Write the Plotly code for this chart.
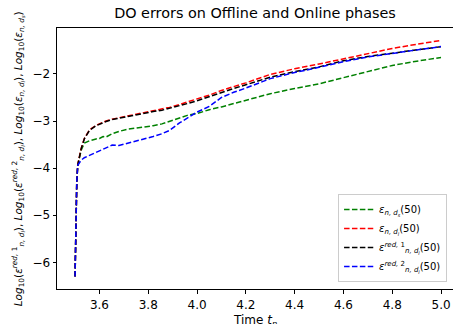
import plotly.graph_objects as go

# time grid (shared by all series)
t = [3.5, 3.503, 3.507, 3.511, 3.525, 3.538, 3.559, 3.586, 3.6, 3.615, 3.627,
     3.652, 3.68, 3.72, 3.75, 3.788, 3.82, 3.856, 3.887, 3.928, 3.96, 4.0,
     4.05, 4.1, 4.15, 4.2, 4.3, 4.4, 4.5, 4.6, 4.7, 4.8, 4.9, 5.0]

err_ds = [-6.3, -5.0, -4.3, -3.94, -3.62, -3.47, -3.42, -3.38, -3.37, -3.33, -3.34,
          -3.27, -3.22, -3.17, -3.15, -3.12, -3.10, -3.06, -3.01, -2.93, -2.88, -2.84,
          -2.76, -2.70, -2.63, -2.56, -2.42, -2.31, -2.21, -2.08, -1.95, -1.82, -1.73, -1.65]

err_dl = [-6.3, -5.0, -4.3, -3.93, -3.58, -3.37, -3.19, -3.09, -3.06, -3.02, -3.00,
          -2.96, -2.93, -2.89, -2.85, -2.82, -2.79, -2.75, -2.71, -2.65, -2.59, -2.53,
          -2.45, -2.35, -2.27, -2.19, -2.01, -1.89, -1.79, -1.68, -1.58, -1.46, -1.37, -1.29]

err_red1 = [-6.3, -5.0, -4.3, -3.94, -3.59, -3.38, -3.20, -3.10, -3.07, -3.03, -3.01,
            -2.97, -2.94, -2.90, -2.86, -2.83, -2.80, -2.77, -2.73, -2.68, -2.63, -2.57,
            -2.48, -2.39, -2.31, -2.23, -2.07, -1.95, -1.85, -1.72, -1.63, -1.56, -1.49, -1.42]

err_red2 = [-6.3, -5.0, -4.3, -3.94, -3.83, -3.78, -3.73, -3.67, -3.64, -3.61, -3.58,
            -3.51, -3.52, -3.47, -3.43, -3.38, -3.33, -3.27, -3.20, -3.04, -2.93, -2.81,
            -2.69, -2.50, -2.39, -2.30, -2.10, -1.97, -1.86, -1.74, -1.64, -1.56, -1.49, -1.42]

names = [
    "<i>ε</i><sub><i>n, d<sub>s</sub></i></sub>(50)",
    "<i>ε</i><sub><i>n, d<sub>l</sub></i></sub>(50)",
    "<i>ε</i><sup><i>red, </i>1</sup><sub><i>n, d<sub>l</sub></i></sub>(50)",
    "<i>ε</i><sup><i>red, </i>2</sup><sub><i>n, d<sub>l</sub></i></sub>(50)",
]
series = [err_ds, err_dl, err_red1, err_red2]
colors = ["green", "red", "black", "blue"]

fig = go.Figure()
for name, y, c in zip(names, series, colors):
    fig.add_trace(go.Scatter(
        x=t, y=y, mode="lines", name=name,
        line=dict(color=c, width=1.5, dash="5.5px,2.4px"),
    ))

ylabel = ("<i>Log</i><sub>10</sub>(<i>ε</i><sup><i>red, </i>1</sup><sub><i>n, d<sub>l</sub></i></sub>), "
          "<i>Log</i><sub>10</sub>(<i>ε</i><sup><i>red, </i>2</sup><sub><i>n, d<sub>l</sub></i></sub>), "
          "<i>Log</i><sub>10</sub>(<i>ε</i><sub><i>n, d<sub>l</sub></i></sub>), "
          "<i>Log</i><sub>10</sub>(<i>ε</i><sub><i>n, d<sub>s</sub></i></sub>)")

fig.add_annotation(
    text=ylabel, textangle=-90, showarrow=False,
    xref="paper", yref="paper", x=-0.099, y=0.5,
    xanchor="center", yanchor="middle",
    font=dict(size=10.5, color="black"),
)

# x axis title, placed by hand just under the tick labels
fig.add_annotation(
    text="Time <i>t</i><sub><i>n</i></sub>", showarrow=False,
    xref="paper", yref="paper", x=0.5, y=-0.083,
    xanchor="center", yanchor="top",
    font=dict(size=12, color="black"),
)

fig.update_layout(
    width=453, height=324,
    margin=dict(l=57, r=0, t=28, b=35),
    paper_bgcolor="white", plot_bgcolor="white",
    font=dict(family="DejaVu Sans", size=12, color="black"),
    title=dict(text="DO errors on Offline and Online phases", x=0.5, xref="paper",
               xanchor="center", y=0.96, yanchor="middle", font=dict(size=14.4)),
    showlegend=True,
    legend=dict(x=0.985, y=0.027, xanchor="right", yanchor="bottom",
                bgcolor="rgba(255,255,255,0.8)", bordercolor="#cccccc", borderwidth=1,
                font=dict(size=10), tracegroupgap=0, itemwidth=30),
    xaxis=dict(
        range=[3.426, 5.049], showgrid=False, zeroline=False, automargin=False,
        showline=True, linecolor="black", linewidth=1, mirror=True,
        ticks="outside", ticklen=3.5, tickcolor="black",
        tickvals=[3.6, 3.8, 4.0, 4.2, 4.4, 4.6, 4.8, 5.0], tickformat=".1f",
        ticklabeloverflow="allow", ticklabelstandoff=1,
    ),
    yaxis=dict(
        range=[-6.566, -1.025], showgrid=False, zeroline=False, automargin=False,
        showline=True, linecolor="black", linewidth=1,
        ticks="outside", ticklen=3.5, tickcolor="black",
        tickvals=[-6, -5, -4, -3, -2],
    ),
)

# drop the browser's default 8px body margin so the figure sits at the page origin
fig.write_html("out.html", config={"displayModeBar": False},
               post_script="document.body.style.margin = '0';")
